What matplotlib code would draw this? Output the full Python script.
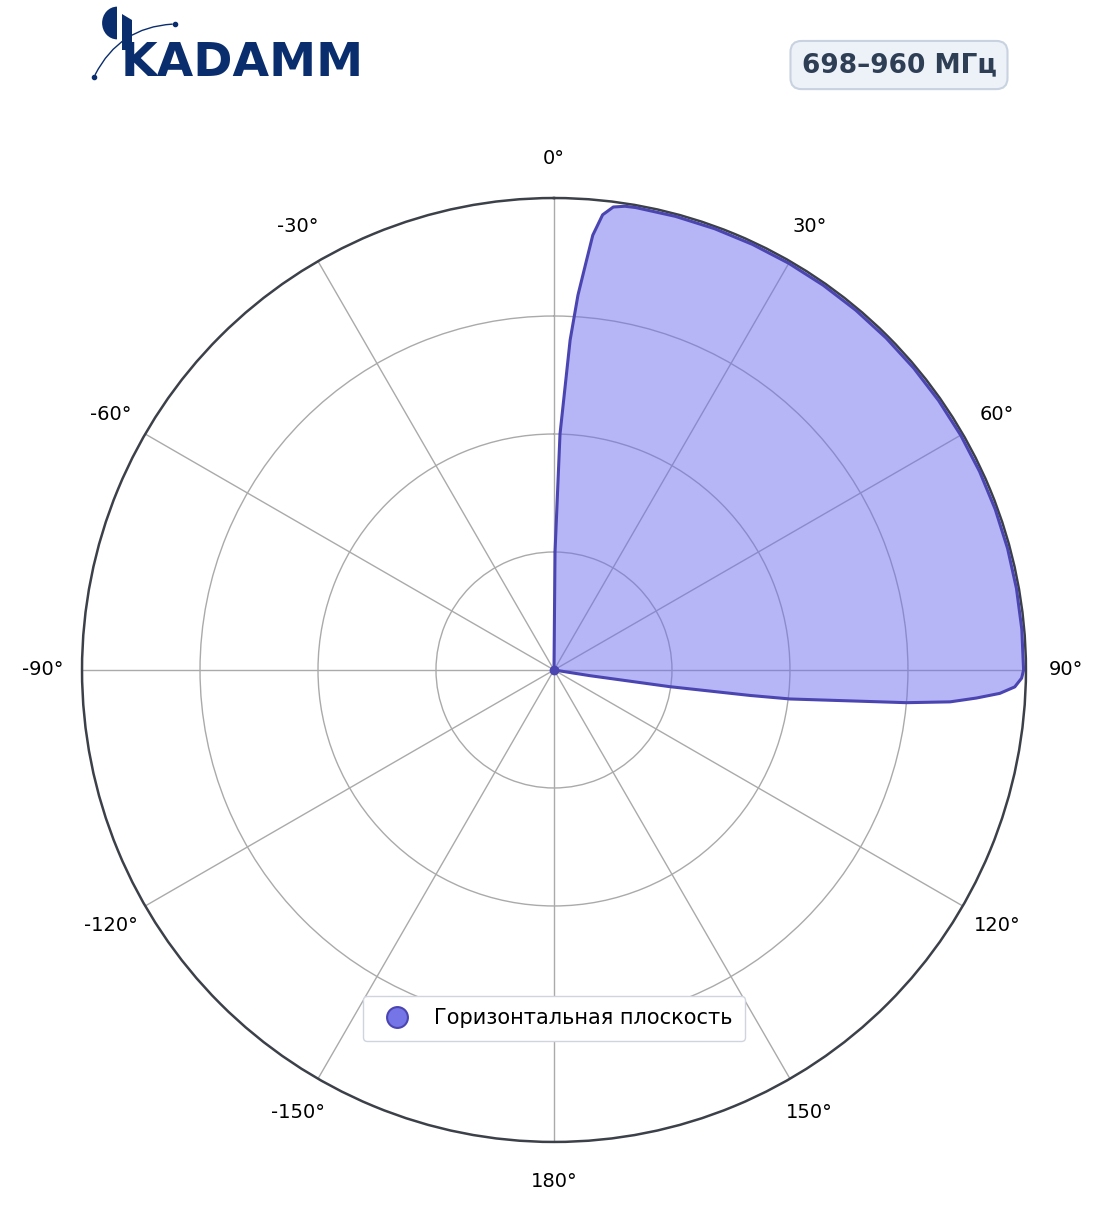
import numpy as np
import matplotlib.pyplot as plt
from matplotlib.lines import Line2D
from matplotlib.patches import Wedge, FancyArrowPatch, Polygon

# диаграмма направленности, горизонтальная плоскость
angles_deg = [0, 0.5, 1.46, 2.8, 3.66, 4.5, 5.1, 6.1, 7.3, 8.7, 10, 15, 20, 25, 30, 35,
              40, 45, 50, 55, 60, 65, 70, 75, 80, 85, 90, 91, 92.1, 93, 93.8, 94.6, 95.3,
              97, 97.4, 98.2, 99, 100, 120, 180, 240, 300, 360]
gain = [0.0, 0.25, 0.5, 0.70, 0.796, 0.867, 0.925, 0.97, 0.989, 0.994, 0.995, 0.995,
        0.995, 0.995, 0.995, 0.995, 0.995, 0.995, 0.995, 0.995, 0.995, 0.995, 0.995,
        0.995, 0.995, 0.995, 0.995, 0.991, 0.977, 0.946, 0.897, 0.842, 0.75, 0.504,
        0.419, 0.248, 0.077, 0.0, 0.0, 0.0, 0.0, 0.0, 0.0]
tick_deg = [0, 30, 60, 90, 120, 150, 180, 210, 240, 270, 300, 330]
tick_labels = ['0°', '30°', '60°', '90°', '120°', '150°', '180°',
               '-150°', '-120°', '-90°', '-60°', '-30°']
ring_vals = [0.25, 0.5, 0.75]
band_label = '698–960 МГц'
series_name = 'Горизонтальная плоскость'

W, H = 1104, 1211


def px(x, y):
    # пиксели -> доли фигуры
    return (x / W, 1 - y / H)


fig = plt.figure(figsize=(11.04, 12.11), dpi=100)
ax = fig.add_axes([0.0743, 0.0570, 0.855, 0.7795], projection='polar')
ax.set_theta_zero_location('N')
ax.set_theta_direction(-1)
ax.set_ylim(0, 1)

theta = np.deg2rad(angles_deg)
ax.fill(theta, gain, color='#6e6cec', alpha=0.5, zorder=2, lw=0)
ax.plot(theta, gain, color='#4a45b0', lw=2.2, zorder=3, solid_joinstyle='round')
ax.plot([0], [0], 'o', color='#4a45b0', ms=6, zorder=4)

ax.set_xticks(np.deg2rad(tick_deg))
ax.set_xticklabels(tick_labels, fontsize=14)
ax.set_yticks(ring_vals)
ax.set_yticklabels([])
ax.tick_params(axis='x', pad=18)
ax.grid(True, color='#aaaaaa', lw=1, zorder=1)
ax.spines['polar'].set_color('#3c4049')
ax.spines['polar'].set_linewidth(1.8)

handle = Line2D([], [], ls='none', marker='o', ms=15, mfc='#7575e8', mec='#4a45b0', mew=1.5)
fig.legend([handle], [series_name], loc='center', bbox_to_anchor=(0.502, 0.159),
           fontsize=15, frameon=True, fancybox=True, edgecolor='#d0d4e0',
           framealpha=1, borderpad=0.6, handletextpad=0.8)

# заголовок диапазона
fig.text(0.8143, 0.9463, band_label, fontsize=19, fontweight='bold', color='#2e3e55',
         ha='center', va='center',
         bbox=dict(boxstyle='round,pad=0.42', fc='#edf2f8', ec='#c8d2e0', lw=1.5))

# логотип
navy = '#0a2d6e'
fig.text(px(121, 0)[0], px(0, 63)[1], 'KADAMM', fontsize=34, fontweight='bold',
         color=navy, ha='left', va='center', family='DejaVu Sans')
fig.patches.append(Polygon([px(122, 14), px(132, 20), px(132, 50), px(122, 50)],
                           closed=True, fc=navy, ec='none', transform=fig.transFigure))
fig.patches.append(Wedge(px(117, 23), 0.0135, 90, 270, fc=navy, ec='none',
                         transform=fig.transFigure))
arc = FancyArrowPatch(px(94, 77), px(175, 24), connectionstyle='arc3,rad=-0.3',
                      arrowstyle='-', color=navy, lw=1, transform=fig.transFigure)
fig.patches.append(arc)
fig.lines.append(Line2D([94 / W, 175 / W], [1 - 77 / H, 1 - 24 / H], ls='none',
                        marker='o', ms=3, color=navy, transform=fig.transFigure))

plt.savefig('out.png')
